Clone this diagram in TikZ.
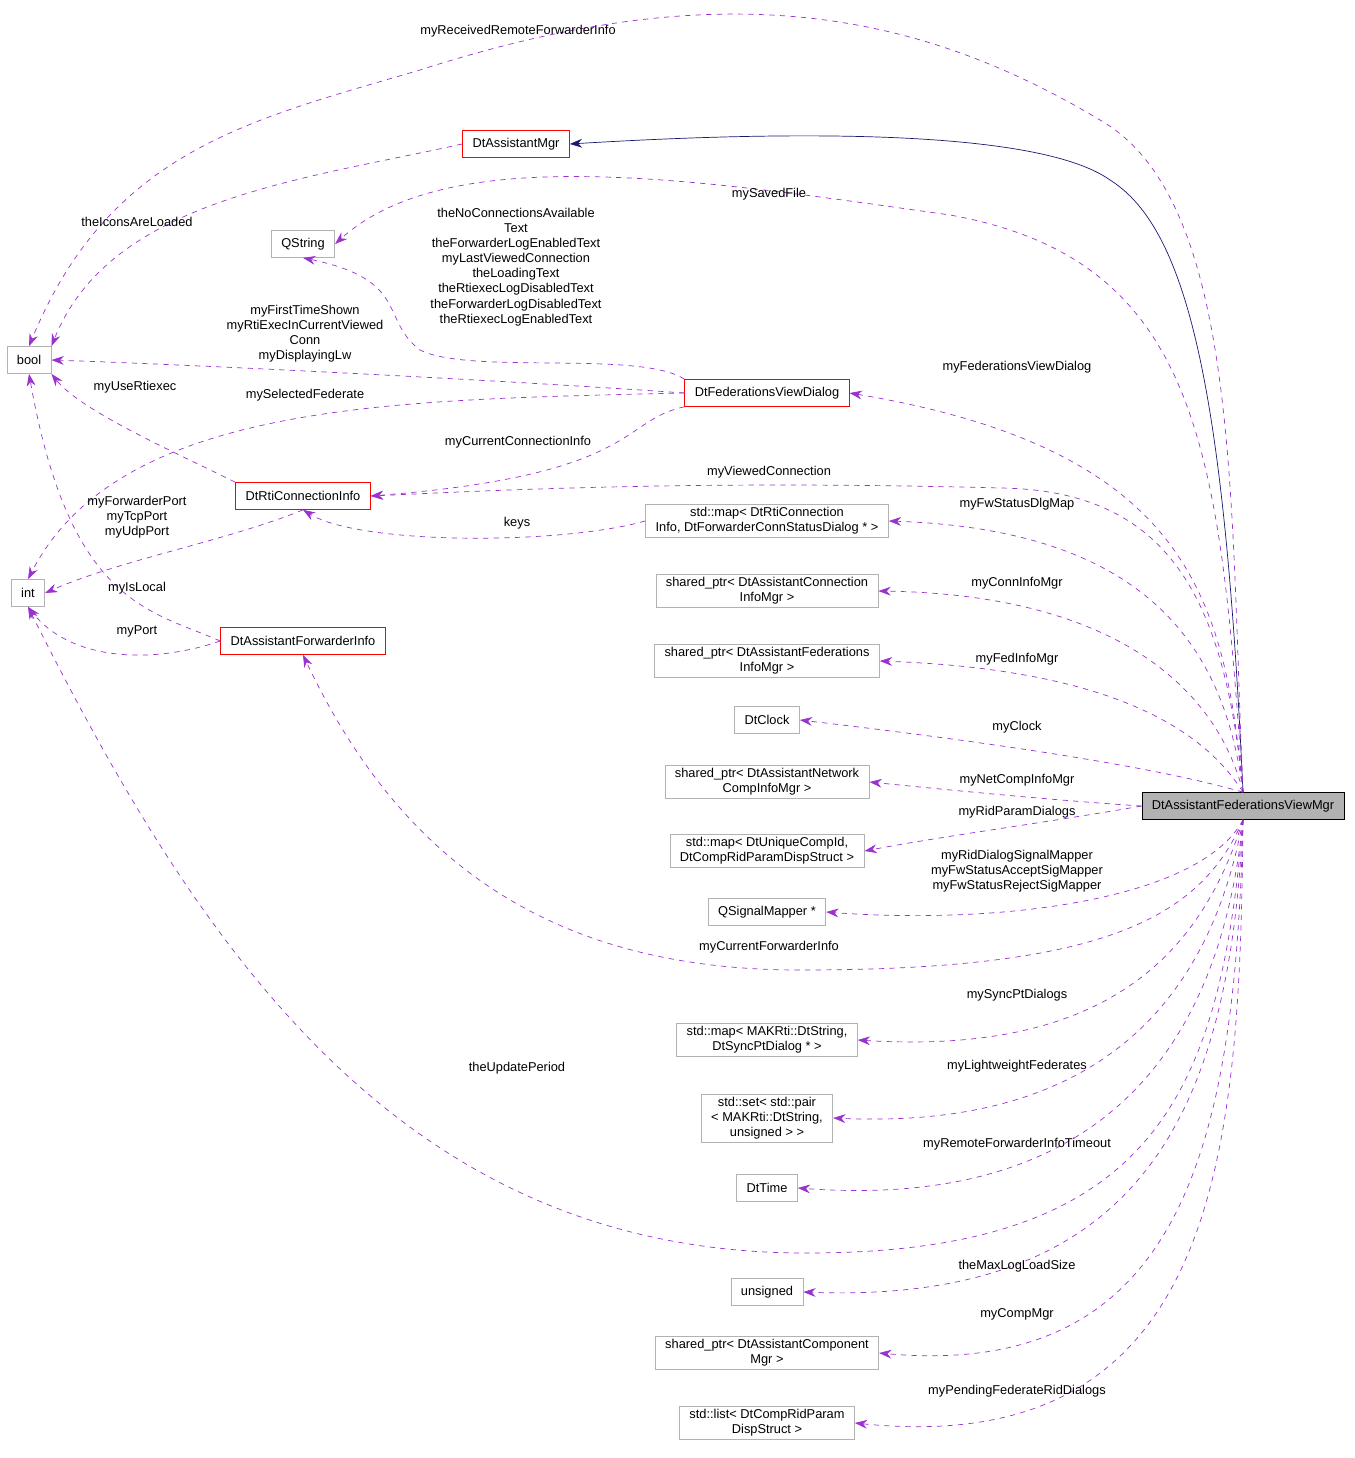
\documentclass[tikz,border=0pt]{standalone}
\usepackage{fontspec}
\setmainfont{Liberation Sans}
\usetikzlibrary{arrows.meta}
\definecolor{edgepurple}{HTML}{9A32CD}
\definecolor{inhblue}{HTML}{191970}
\begin{document}
\begin{tikzpicture}[x=0.02cm,y=-0.02cm,
        font=\fontsize{7.3}{8.6}\selectfont,
        cls/.style={
                draw=black!30,
                rectangle,
                align=center,
                inner xsep=0.2cm,
                inner ysep=0.06cm,
                minimum height=0.54cm
            },
        redcls/.style={
                cls,
                draw=red
            },
        use arrow/.style={
                draw=edgepurple,
                dashed,
                arrows = {-Stealth[length=7pt,width=5pt]}
            },
        inh arrow/.style={
                draw=inhblue,
                arrows = {-Stealth[length=7pt,width=5pt]}
            },
        lbl/.style={
                align=center,
                inner sep=0pt
            }]
        \useasboundingbox (0,0) rectangle (1355,1458);

        % nodes
        \node [cls, fill=black!30, draw=black] (mgr) at (1243,806) {DtAssistantFederationsViewMgr};
        \node [redcls] (amgr) at (516,144) {DtAssistantMgr};
        \node [cls] (qstr) at (303,244) {QString};
        \node [cls] (bool) at (29,360) {bool};
        \node [cls] (int) at (28,593) {int};
        \node [redcls] (fvd) at (767,393) {DtFederationsViewDialog};
        \node [redcls] (rci) at (303,496) {DtRtiConnectionInfo};
        \node [redcls] (afi) at (303,641) {DtAssistantForwarderInfo};
        \node [cls] (fwmap) at (767,521) {std::map\textless{} DtRtiConnection\\Info, DtForwarderConnStatusDialog * \textgreater};
        \node [cls] (connmgr) at (767,591) {shared\_ptr\textless{} DtAssistantConnection\\InfoMgr \textgreater};
        \node [cls] (fedmgr) at (767,661) {shared\_ptr\textless{} DtAssistantFederations\\InfoMgr \textgreater};
        \node [cls] (clock) at (767,720) {DtClock};
        \node [cls] (netmgr) at (767,782) {shared\_ptr\textless{} DtAssistantNetwork\\CompInfoMgr \textgreater};
        \node [cls] (ridmap) at (767,851) {std::map\textless{} DtUniqueCompId,\\DtCompRidParamDispStruct \textgreater};
        \node [cls] (sigmap) at (767,912) {QSignalMapper *};
        \node [cls] (syncmap) at (767,1040) {std::map\textless{} MAKRti::DtString,\\DtSyncPtDialog * \textgreater};
        \node [cls] (lwset) at (767,1118) {std::set\textless{} std::pair\\\textless{} MAKRti::DtString,\\unsigned \textgreater{} \textgreater};
        \node [cls] (time) at (767,1188) {DtTime};
        \node [cls] (uns) at (767,1292) {unsigned};
        \node [cls] (compmgr) at (767,1353) {shared\_ptr\textless{} DtAssistantComponent\\Mgr \textgreater};
        \node [cls] (ridlist) at (767,1423) {std::list\textless{} DtCompRidParam\\DispStruct \textgreater};

        % inheritance
        \draw [inh arrow] (mgr.north) .. controls (1225,400) and (1190,230) .. (1110,180) .. controls (1040,130) and (800,130) .. (amgr.east);

        % upper usage edges
        \draw [use arrow] (mgr.north) .. controls (1230,500) and (1240,200) .. (1100,120) .. controls (900,0) and (700,-20) .. (420,70) .. controls (250,120) and (110,150) .. (bool.north);
        \node [lbl] at (518,31) {myReceivedRemoteForwarderInfo};
        \draw [use arrow] (amgr.west) .. controls (300,180) and (110,200) .. (bool.north east);
        \node [lbl] at (137,222) {theIconsAreLoaded};
        \draw [use arrow] (mgr.north) .. controls (1220,450) and (1200,260) .. (950,215) .. controls (700,180) and (450,140) .. (qstr.east);
        \node [lbl] at (769,194) {mySavedFile};
        \draw [use arrow] (fvd.north west) .. controls (640,350) and (470,375) .. (420,350) .. controls (380,320) and (410,280) .. (qstr.south);
        \node [lbl] at (516,267) {theNoConnectionsAvailable\\Text\\theForwarderLogEnabledText\\myLastViewedConnection\\theLoadingText\\theRtiexecLogDisabledText\\theForwarderLogDisabledText\\theRtiexecLogEnabledText};
        \draw [use arrow] (fvd.west) .. controls (500,380) and (200,365) .. (bool.east);
        \node [lbl] at (305,334) {myFirstTimeShown\\myRtiExecInCurrentViewed\\Conn\\myDisplayingLw};
        \draw [use arrow] (fvd.west) .. controls (400,400) and (120,400) .. (int.north);
        \node [lbl] at (305,395) {mySelectedFederate};
        \draw [use arrow] (fvd.south west) .. controls (620,420) and (640,475) .. (rci.east);
        \node [lbl] at (518,442) {myCurrentConnectionInfo};
        \draw [use arrow] (mgr.north) .. controls (1225,600) and (1190,450) .. (fvd.east);
        \node [lbl] at (1017,367) {myFederationsViewDialog};
        \draw [use arrow] (rci.north west) .. controls (170,450) and (80,410) .. (bool.south east);
        \node [lbl] at (135,387) {myUseRtiexec};
        \draw [use arrow] (rci.south) .. controls (230,540) and (120,560) .. (int.east);
        \node [lbl] at (137,517) {myForwarderPort\\myTcpPort\\myUdpPort};
        \draw [use arrow] (mgr.north) .. controls (1225,600) and (1170,490) .. (1000,488) .. controls (700,480) and (500,490) .. (rci.east);
        \node [lbl] at (769,472) {myViewedConnection};
        \draw [use arrow] (fwmap.west) .. controls (560,545) and (360,545) .. (rci.south);
        \node [lbl] at (517,523) {keys};
        \draw [use arrow] (afi.west) .. controls (150,610) and (70,605) .. (bool.south);
        \node [lbl] at (137,588) {myIsLocal};
        \draw [use arrow] (afi.west) .. controls (150,665) and (70,660) .. (int.south);
        \node [lbl] at (137,631) {myPort};

        % middle column edges
        \draw [use arrow] (mgr.north) .. controls (1225,650) and (1150,530) .. (fwmap.east);
        \node [lbl] at (1017,504) {myFwStatusDlgMap};
        \draw [use arrow] (mgr.north) .. controls (1220,700) and (1130,595) .. (connmgr.east);
        \node [lbl] at (1017,583) {myConnInfoMgr};
        \draw [use arrow] (mgr.north) .. controls (1210,740) and (1130,670) .. (fedmgr.east);
        \node [lbl] at (1017,659) {myFedInfoMgr};
        \draw [use arrow] (mgr.north) .. controls (1200,780) and (1100,755) .. (clock.east);
        \node [lbl] at (1017,727) {myClock};
        \draw [use arrow] (mgr.west) .. controls (1050,800) and (950,790) .. (netmgr.east);
        \node [lbl] at (1017,780) {myNetCompInfoMgr};
        \draw [use arrow] (mgr.west) .. controls (1050,822) and (950,835) .. (ridmap.east);
        \node [lbl] at (1017,812) {myRidParamDialogs};
        \draw [use arrow] (mgr.south) .. controls (1200,900) and (1000,925) .. (sigmap.east);
        \node [lbl] at (1017,871) {myRidDialogSignalMapper\\myFwStatusAcceptSigMapper\\myFwStatusRejectSigMapper};
        \draw [use arrow] (mgr.south) .. controls (1200,920) and (1100,970) .. (800,970) .. controls (550,970) and (400,860) .. (afi.south);
        \node [lbl] at (769,947) {myCurrentForwarderInfo};
        \draw [use arrow] (mgr.south) .. controls (1200,960) and (1100,1055) .. (syncmap.east);
        \node [lbl] at (1017,995) {mySyncPtDialogs};
        \draw [use arrow] (mgr.south) .. controls (1210,1000) and (1100,1130) .. (lwset.east);
        \node [lbl] at (1017,1066) {myLightweightFederates};
        \draw [use arrow] (mgr.south) .. controls (1220,1050) and (1100,1210) .. (time.east);
        \node [lbl] at (1017,1144) {myRemoteForwarderInfoTimeout};
        \draw [use arrow] (mgr.south) .. controls (1220,1100) and (1150,1255) .. (800,1253) .. controls (400,1250) and (200,950) .. (int.south);
        \node [lbl] at (517,1068) {theUpdatePeriod};
        \draw [use arrow] (mgr.south) .. controls (1230,1100) and (1150,1305) .. (uns.east);
        \node [lbl] at (1017,1266) {theMaxLogLoadSize};
        \draw [use arrow] (mgr.south) .. controls (1235,1150) and (1180,1380) .. (compmgr.east);
        \node [lbl] at (1017,1314) {myCompMgr};
        \draw [use arrow] (mgr.south) .. controls (1240,1150) and (1220,1460) .. (ridlist.east);
        \node [lbl] at (1017,1391) {myPendingFederateRidDialogs};
    \end{tikzpicture}
\end{document}
